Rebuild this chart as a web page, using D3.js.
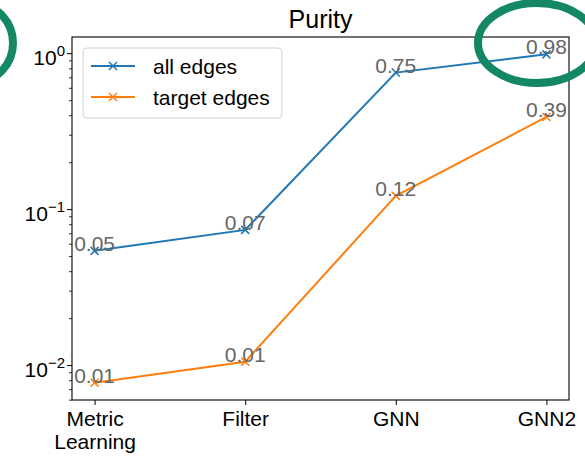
<!DOCTYPE html>
<html>
<head>
<meta charset="utf-8">
<script src="https://cdn.jsdelivr.net/npm/d3@7"></script>
<style>
  html, body { margin: 0; padding: 0; background: #fff; }
  svg { display: block; font-family: "Liberation Sans", Arial, Helvetica, sans-serif; }
</style>
</head>
<body>
<svg id="chart" width="585" height="456"></svg>
<script>
// Pipeline stages along the x axis
const stages = ["Metric\nLearning", "Filter", "GNN", "GNN2"];
// Purity per stage
const allEdges = [0.054, 0.0736, 0.751, 0.983];
const targetEdges = [0.0077, 0.0105, 0.1216, 0.39];
const seriesNames = ["all edges", "target edges"];
const seriesColors = ["#1f77b4", "#ff7f0e"];
const majorTicks = [0.01, 0.1, 1];
const minorTicks = [0.006, 0.007, 0.008, 0.009,
  0.02, 0.03, 0.04, 0.05, 0.06, 0.07, 0.08, 0.09,
  0.2, 0.3, 0.4, 0.5, 0.6, 0.7, 0.8, 0.9];

const svg = d3.select("#chart");
const W = 585, H = 456;
const plot = { left: 72, right: 569, top: 37, bottom: 400 };

svg.append("rect").attr("width", W).attr("height", H).attr("fill", "#fff");

const x = d3.scaleLinear().domain([-0.15, 3.15]).range([plot.left, plot.right]);
const y = d3.scaleLog().domain([0.00597, 1.27]).range([plot.bottom, plot.top]);

const fmt = d3.format(".2f");
const series = [allEdges, targetEdges];

// Minor log ticks
svg.append("g")
  .attr("transform", `translate(${plot.left},0)`)
  .call(d3.axisLeft(y).tickValues(minorTicks).tickSize(3).tickFormat("").tickSizeOuter(0))
  .call(g => g.select(".domain").remove())
  .call(g => g.selectAll("line").attr("stroke", "#000").attr("stroke-width", 0.8));

// Major log ticks with power-of-ten labels
const supDigits = { "1": "0", "0.1": "\u22121", "0.01": "\u22122" };
svg.append("g")
  .attr("transform", `translate(${plot.left},0)`)
  .call(d3.axisLeft(y).tickValues(majorTicks).tickSize(5).tickPadding(3).tickFormat("").tickSizeOuter(0))
  .call(g => g.select(".domain").remove())
  .call(g => g.selectAll("line").attr("stroke", "#000").attr("stroke-width", 1))
  .call(g => g.selectAll("text").each(function(d) {
    const t = d3.select(this)
      .attr("fill", "#000")
      .attr("font-size", 21)
      .attr("dy", "0.55em")
      .attr("x", -7)
      .attr("font-family", "'Liberation Sans', Arial, sans-serif");
    t.append("tspan").text("10");
    t.append("tspan").attr("dy", -9).attr("font-size", 15).text(supDigits[String(d)]);
  }));

// Category axis with multi-line labels
svg.append("g")
  .attr("transform", `translate(0,${plot.bottom})`)
  .call(d3.axisBottom(x).tickValues(d3.range(stages.length)).tickSize(5).tickPadding(6).tickSizeOuter(0).tickFormat(""))
  .call(g => g.select(".domain").remove())
  .call(g => g.selectAll("line").attr("stroke", "#000").attr("stroke-width", 1))
  .call(g => g.selectAll("text").each(function(i) {
    const t = d3.select(this)
      .attr("fill", "#000")
      .attr("font-size", 21)
      .attr("dy", null)
      .attr("y", 26)
      .attr("font-family", "'Liberation Sans', Arial, sans-serif");
    stages[i].split("\n").forEach((line, k) => {
      t.append("tspan").attr("x", 0).attr("dy", k === 0 ? 0 : 23).text(line);
    });
  }));

// Axes frame
svg.append("rect")
  .attr("x", plot.left).attr("y", plot.top)
  .attr("width", plot.right - plot.left).attr("height", plot.bottom - plot.top)
  .attr("fill", "none").attr("stroke", "#000").attr("stroke-width", 1.1);

// Series lines, markers and value labels
const line = d3.line().x((d, i) => x(i)).y(d => y(d));
series.forEach((vals, s) => {
  const g = svg.append("g");
  g.append("path").datum(vals)
    .attr("d", line)
    .attr("fill", "none")
    .attr("stroke", seriesColors[s])
    .attr("stroke-width", 2);
  g.selectAll("path.mk").data(vals).join("path")
    .attr("class", "mk")
    .attr("transform", (d, i) => `translate(${x(i)},${y(d)})`)
    .attr("d", "M-4,-4L4,4M-4,4L4,-4")
    .attr("stroke", seriesColors[s])
    .attr("stroke-width", 1.5);
  g.selectAll("text").data(vals).join("text")
    .attr("x", (d, i) => x(i))
    .attr("y", d => y(d))
    .attr("text-anchor", "middle")
    .attr("font-size", 21)
    .attr("fill", "#666")
    .text(d => fmt(d));
});

// Legend
const lg = svg.append("g");
lg.append("rect")
  .attr("x", 83).attr("y", 48).attr("width", 199).attr("height", 70)
  .attr("rx", 4)
  .attr("fill", "#fff").attr("fill-opacity", 0.8)
  .attr("stroke", "#d0d0d0").attr("stroke-width", 1);
seriesNames.forEach((name, s) => {
  const yy = 66 + s * 31;
  lg.append("line")
    .attr("x1", 91).attr("x2", 135).attr("y1", yy).attr("y2", yy)
    .attr("stroke", seriesColors[s]).attr("stroke-width", 2);
  lg.append("path")
    .attr("transform", `translate(113,${yy})`)
    .attr("d", "M-4,-4L4,4M-4,4L4,-4")
    .attr("stroke", seriesColors[s]).attr("stroke-width", 1.5);
  lg.append("text")
    .attr("x", 153).attr("y", yy + 7.5)
    .attr("font-size", 21)
    .attr("fill", "#000")
    .text(name);
});

// Title
svg.append("text")
  .attr("x", (plot.left + plot.right) / 2).attr("y", 28)
  .attr("text-anchor", "middle")
  .attr("font-size", 25)
  .attr("fill", "#000")
  .text("Purity");

// Highlight rings
const ring = "#148764";
svg.append("ellipse")
  .attr("cx", -22).attr("cy", 43).attr("rx", 35).attr("ry", 38)
  .attr("fill", "none").attr("stroke", ring).attr("stroke-width", 8);
svg.append("ellipse")
  .attr("cx", 537).attr("cy", 43).attr("rx", 59).attr("ry", 40)
  .attr("fill", "none").attr("stroke", ring).attr("stroke-width", 8);
</script>
</body>
</html>
